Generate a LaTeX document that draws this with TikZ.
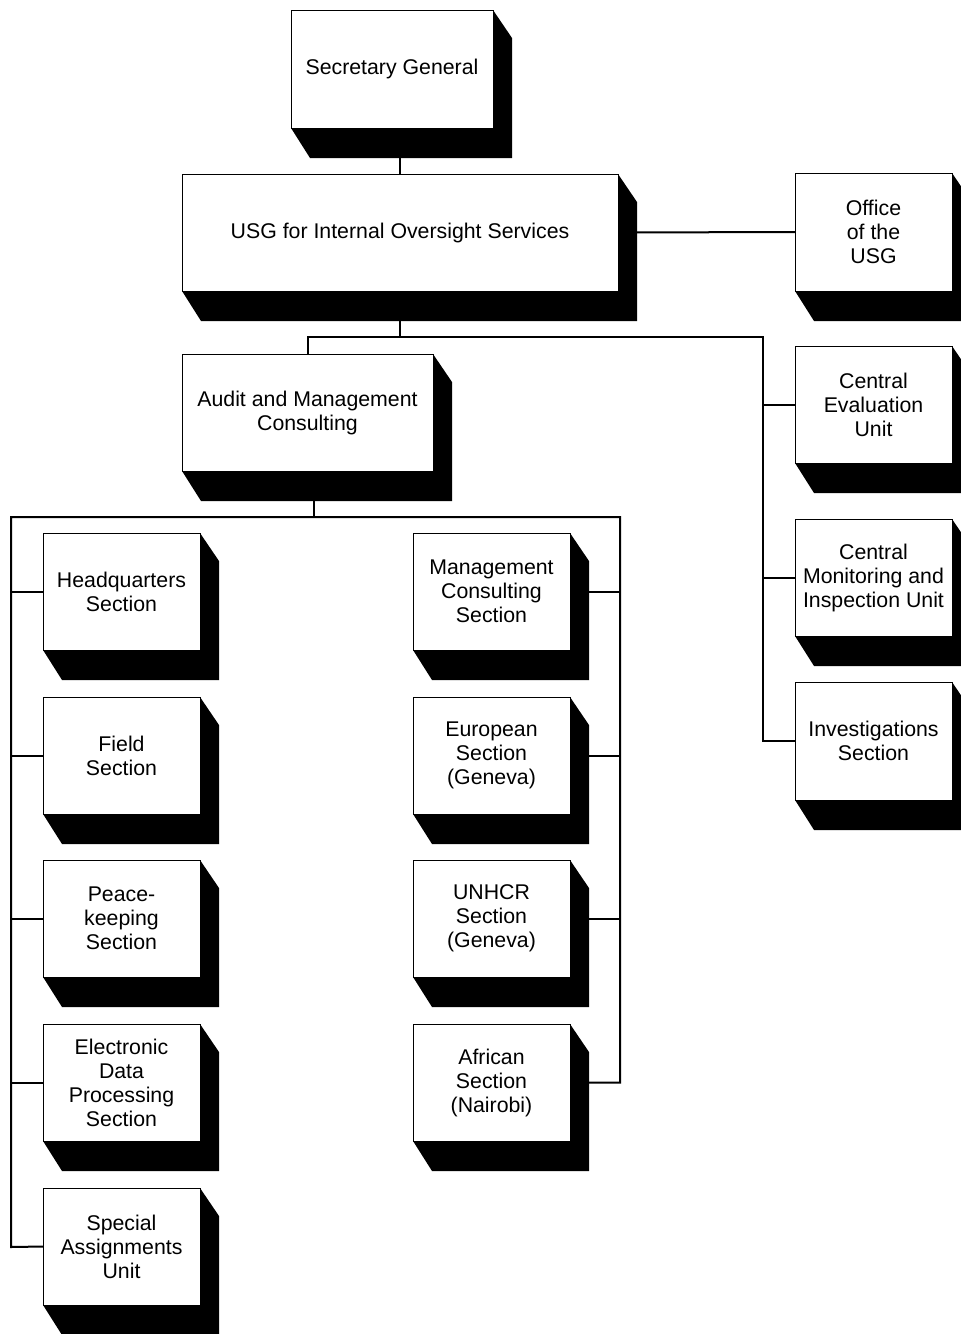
\documentclass[tikz,border=0pt]{standalone}
\usepackage{fontspec}
\setmainfont{Liberation Sans}
\usetikzlibrary{calc,backgrounds}
\begin{document}
\begin{tikzpicture}[x=1pt,y=-1pt,
  ubox/.style={draw=black,line width=1pt,fill=white,align=center,inner sep=0pt,outer sep=0pt,
    font=\fontsize{21.3}{24}\selectfont},
  sbox/.style={ubox,minimum width=157pt,minimum height=117pt},
  conn/.style={line width=2pt,line cap=rect}]
\useasboundingbox (0,0) rectangle (961,1334);
% nodes
\node[ubox,minimum width=202pt,minimum height=118pt] (SG) at (392,69) {Secretary General};
\node[ubox,minimum width=436pt,minimum height=117pt] (USG) at (400,232.5) {USG for Internal Oversight Services};
\node[sbox,minimum height=118pt] (Office) at (873.5,232) {Office\\of the\\USG};
\node[ubox,minimum width=251pt,minimum height=117pt] (Audit) at (307.5,412.5) {Audit and Management\\Consulting};
\node[sbox] (CEU) at (873.5,404.5) {Central\\Evaluation\\Unit};
\node[sbox] (CMIU) at (873.5,577.5) {Central\\Monitoring and\\Inspection Unit};
\node[sbox,minimum height=118pt] (Inv) at (873.5,741) {Investigations\\Section};
\node[sbox] (HQ) at (121.5,591.5) {Headquarters\\Section};
\node[sbox] (Field) at (121.5,755.5) {Field\\Section};
\node[sbox] (Peace) at (121.5,918.5) {Peace-\\keeping\\Section};
\node[sbox] (EDP) at (121.5,1082.5) {Electronic\\Data\\Processing\\Section};
\node[sbox] (Special) at (121.5,1246.5) {Special\\Assignments\\Unit};
\node[sbox] (MCS) at (491.5,591.5) {Management\\Consulting\\Section};
\node[sbox] (Eur) at (491.5,755.5) {European\\Section\\(Geneva)};
\node[sbox] (UNHCR) at (491.5,918.5) {UNHCR\\Section\\(Geneva)};
\node[sbox] (African) at (491.5,1082.5) {African\\Section\\(Nairobi)};
% shadows
\foreach \n in {SG,USG,Office,Audit,CEU,CMIU,Inv,HQ,Field,Peace,EDP,Special,MCS,Eur,UNHCR,African}{
  \fill[black] (\n.north east) -- ++(19,28) -- ($(\n.south east)+(19,30)$)
    -- ($(\n.south west)+(19,30)$) -- (\n.south west) -- (\n.south east) -- cycle;
}
% bus coordinates
\coordinate (rt) at (763,337);
\coordinate (rb) at (763,741);
\coordinate (ab) at (314,517);
\coordinate (lt) at (11,517);
\coordinate (lb) at (11,1247);
\coordinate (rt2) at (620,517);
\coordinate (rb2) at (620,1082.5);
% connectors
\begin{scope}[on background layer]
\draw[conn] (SG.south -| USG.north) -- (USG.north);
\draw[conn] (USG.east) -- (Office.west);
\draw[conn] (USG.south) -- (USG.south |- rt);
\draw[conn] (Audit.north) |- (rt) -- (rb) -- (Inv.west);
\draw[conn] (CEU.west) -- (CEU.west -| rt);
\draw[conn] (CMIU.west) -- (CMIU.west -| rt);
\draw[conn] (Audit.south -| ab) -- (ab);
\draw[conn] (Special.west) -- (lb) -- (lt) -- (rt2) -- (rb2) -- (African.east);
\foreach \n in {HQ,Field,Peace,EDP}{\draw[conn] (\n.west) -- (\n.west -| lt);}
\foreach \n in {MCS,Eur,UNHCR}{\draw[conn] (\n.east) -- (\n.east -| rt2);}
\end{scope}
\end{tikzpicture}
\end{document}
